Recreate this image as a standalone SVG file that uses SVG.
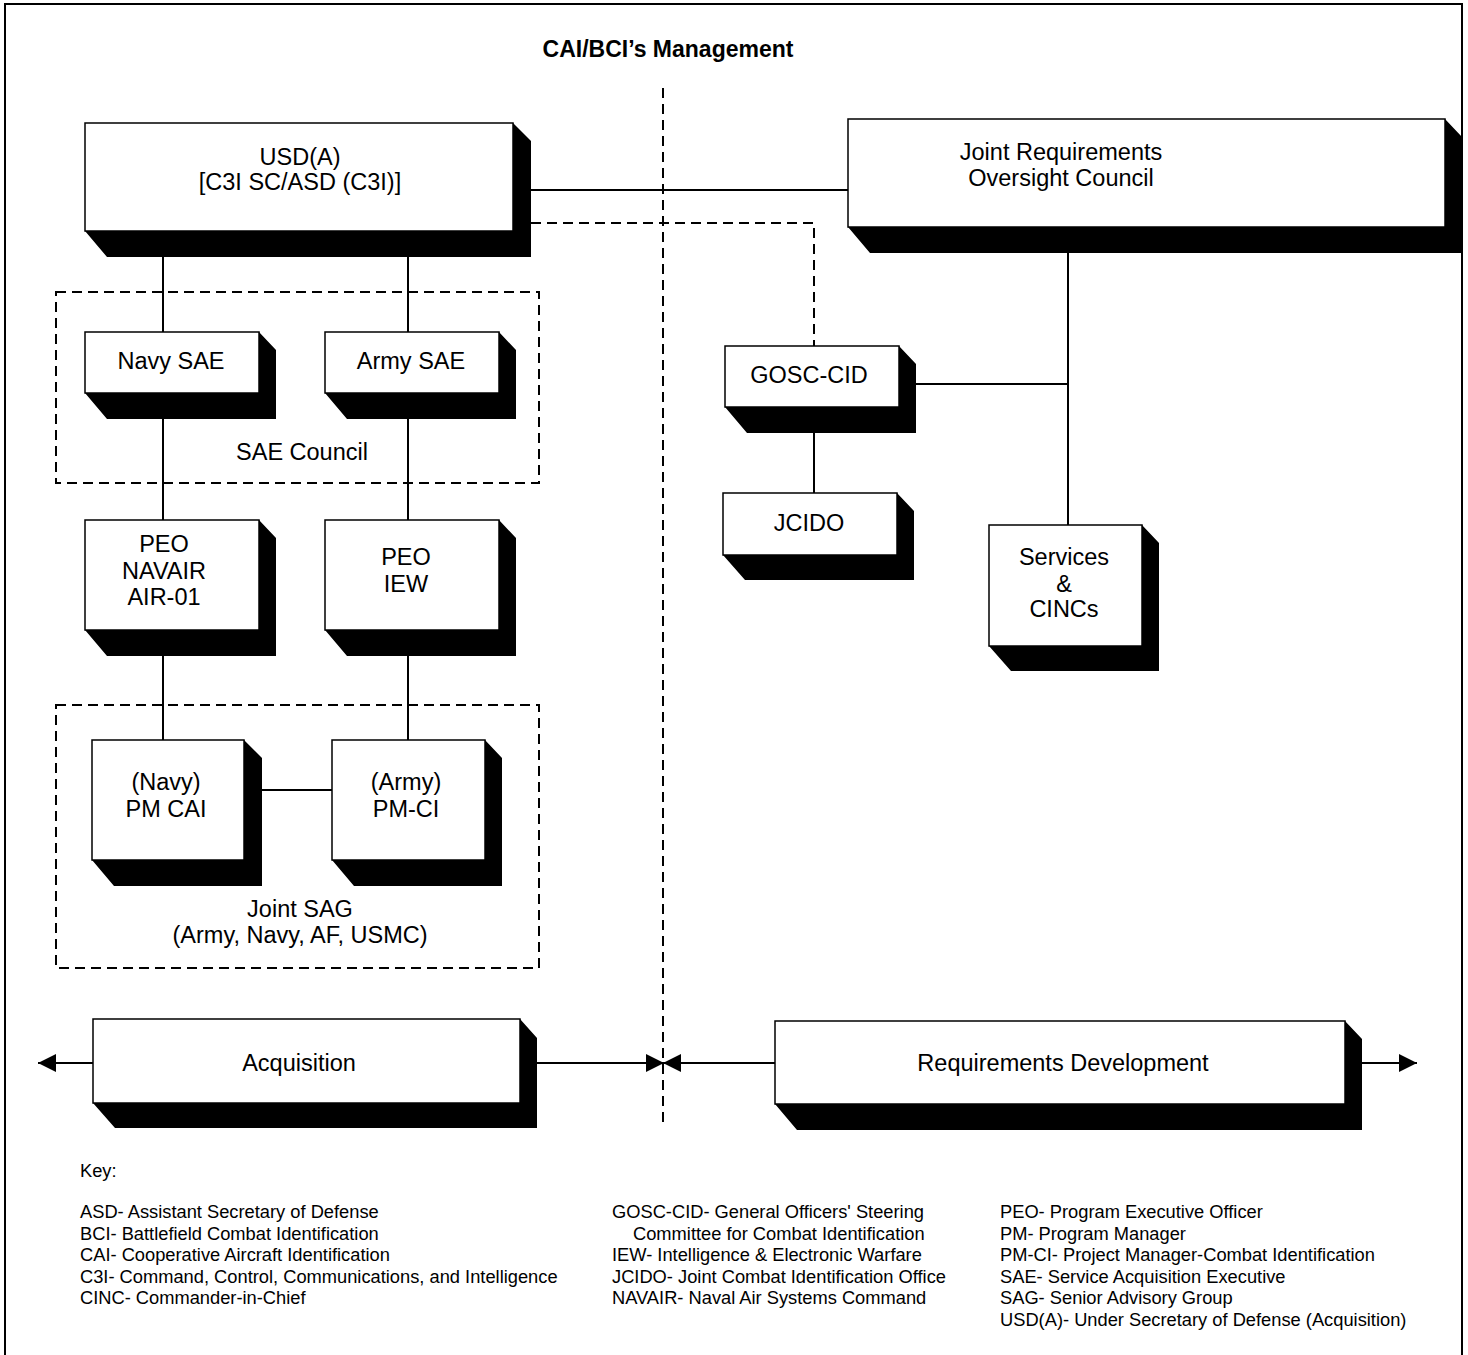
<svg xmlns="http://www.w3.org/2000/svg" width="1468" height="1355" viewBox="0 0 1468 1355">
<style>
text{font-family:"Liberation Sans",Arial,sans-serif;fill:#000}
.n{font-size:23.5px;text-anchor:middle}
.k{font-size:18.3px}
.box{fill:#fff;stroke:#000;stroke-width:1.5}
.sh{fill:#000}
.ln{stroke:#000;stroke-width:2;fill:none}
.dash{stroke:#000;stroke-width:2;fill:none;stroke-dasharray:10 6}
</style>
<defs>
<marker id="ah" viewBox="0 0 18 18" refX="18" refY="9" markerWidth="18" markerHeight="18" markerUnits="userSpaceOnUse" orient="auto">
<path d="M0,0 L18,9 L0,18 Z" fill="#000"/>
</marker>
</defs>
<rect x="0" y="0" width="1468" height="1355" fill="#fff"/>
<rect x="5" y="4" width="1457" height="1370" fill="none" stroke="#000" stroke-width="2"/>
<text x="668" y="57" style="font-size:23px;font-weight:bold" text-anchor="middle">CAI/BCI’s Management</text>

<g id="connectors">
<line class="dash" x1="663" y1="88" x2="663" y2="1127"/>
<rect class="dash" x="56" y="292" width="483" height="191"/>
<rect class="dash" x="56" y="705" width="483" height="263"/>
<line class="ln" x1="531" y1="190" x2="848" y2="190"/>
<polyline class="dash" points="531,223 814,223 814,346"/>
<line class="ln" x1="163" y1="257" x2="163" y2="332"/>
<line class="ln" x1="408" y1="257" x2="408" y2="332"/>
<line class="ln" x1="163" y1="419" x2="163" y2="520"/>
<line class="ln" x1="408" y1="419" x2="408" y2="520"/>
<line class="ln" x1="163" y1="656" x2="163" y2="740"/>
<line class="ln" x1="408" y1="656" x2="408" y2="740"/>
<line class="ln" x1="262" y1="790" x2="332" y2="790"/>
<line class="ln" x1="1068" y1="253" x2="1068" y2="525"/>
<line class="ln" x1="916" y1="384" x2="1068" y2="384"/>
<line class="ln" x1="814" y1="433" x2="814" y2="493"/>
<line class="ln" x1="93" y1="1063" x2="38" y2="1063" marker-end="url(#ah)"/>
<line class="ln" x1="537" y1="1063" x2="664" y2="1063" marker-end="url(#ah)"/>
<line class="ln" x1="775" y1="1063" x2="663" y2="1063" marker-end="url(#ah)"/>
<line class="ln" x1="1362" y1="1063" x2="1417" y2="1063" marker-end="url(#ah)"/>
</g>

<g id="usd">
<polygon class="sh" points="513,123 531,141 531,257 107,257 85,231 513,231"/>
<rect class="box" x="85" y="123" width="428" height="108"/>
<text class="n" x="300" y="165">USD(A)</text>
<text class="n" x="300" y="190">[C3I SC/ASD (C3I)]</text>
</g>
<g id="jroc">
<polygon class="sh" points="1445,119 1462,137 1462,253 870,253 848,227 1445,227"/>
<rect class="box" x="848" y="119" width="597" height="108"/>
<text class="n" x="1061" y="160">Joint Requirements</text>
<text class="n" x="1061" y="186">Oversight Council</text>
</g>
<g id="navysae">
<polygon class="sh" points="259,332 276,350 276,419 107,419 85,393 259,393"/>
<rect class="box" x="85" y="332" width="174" height="61"/>
<text class="n" x="171" y="369">Navy SAE</text>
</g>
<g id="armysae">
<polygon class="sh" points="499,332 516,350 516,419 347,419 325,393 499,393"/>
<rect class="box" x="325" y="332" width="174" height="61"/>
<text class="n" x="411" y="369">Army SAE</text>
</g>
<text class="n" x="302" y="460">SAE Council</text>
<g id="peonavair">
<polygon class="sh" points="259,520 276,538 276,656 107,656 85,630 259,630"/>
<rect class="box" x="85" y="520" width="174" height="110"/>
<text class="n" x="164" y="552">PEO</text>
<text class="n" x="164" y="579">NAVAIR</text>
<text class="n" x="164" y="605">AIR-01</text>
</g>
<g id="peoiew">
<polygon class="sh" points="499,520 516,538 516,656 347,656 325,630 499,630"/>
<rect class="box" x="325" y="520" width="174" height="110"/>
<text class="n" x="406" y="565">PEO</text>
<text class="n" x="406" y="592">IEW</text>
</g>
<g id="pmcai">
<polygon class="sh" points="244,740 262,758 262,886 114,886 92,860 244,860"/>
<rect class="box" x="92" y="740" width="152" height="120"/>
<text class="n" x="166" y="790">(Navy)</text>
<text class="n" x="166" y="817">PM CAI</text>
</g>
<g id="pmci">
<polygon class="sh" points="485,740 502,758 502,886 354,886 332,860 485,860"/>
<rect class="box" x="332" y="740" width="153" height="120"/>
<text class="n" x="406" y="790">(Army)</text>
<text class="n" x="406" y="817">PM-CI</text>
</g>
<text class="n" x="300" y="917">Joint SAG</text>
<text class="n" x="300" y="943">(Army, Navy, AF, USMC)</text>
<g id="gosc">
<polygon class="sh" points="899,346 916,364 916,433 747,433 725,407 899,407"/>
<rect class="box" x="725" y="346" width="174" height="61"/>
<text class="n" x="809" y="383">GOSC-CID</text>
</g>
<g id="jcido">
<polygon class="sh" points="897,493 914,511 914,580 745,580 723,555 897,555"/>
<rect class="box" x="723" y="493" width="174" height="62"/>
<text class="n" x="809" y="531">JCIDO</text>
</g>
<g id="services">
<polygon class="sh" points="1142,525 1159,543 1159,671 1011,671 989,646 1142,646"/>
<rect class="box" x="989" y="525" width="153" height="121"/>
<text class="n" x="1064" y="565">Services</text>
<text class="n" x="1064" y="592">&amp;</text>
<text class="n" x="1064" y="617">CINCs</text>
</g>
<g id="acquisition">
<polygon class="sh" points="520,1019 537,1038 537,1128 115,1128 93,1103 520,1103"/>
<rect class="box" x="93" y="1019" width="427" height="84"/>
<text class="n" x="299" y="1071">Acquisition</text>
</g>
<g id="reqdev">
<polygon class="sh" points="1345,1021 1362,1039 1362,1130 797,1130 775,1104 1345,1104"/>
<rect class="box" x="775" y="1021" width="570" height="83"/>
<text class="n" x="1063" y="1071">Requirements Development</text>
</g>

<g id="key">
<text class="k" x="80" y="1177">Key:</text>
<text class="k" x="80" y="1218">ASD- Assistant Secretary of Defense</text>
<text class="k" x="80" y="1239.5">BCI- Battlefield Combat Identification</text>
<text class="k" x="80" y="1261">CAI- Cooperative Aircraft Identification</text>
<text class="k" x="80" y="1282.5">C3I- Command, Control, Communications, and Intelligence</text>
<text class="k" x="80" y="1304">CINC- Commander-in-Chief</text>
<text class="k" x="612" y="1218">GOSC-CID- General Officers' Steering</text>
<text class="k" x="633" y="1239.5">Committee for Combat Identification</text>
<text class="k" x="612" y="1261">IEW- Intelligence &amp; Electronic Warfare</text>
<text class="k" x="612" y="1282.5">JCIDO- Joint Combat Identification Office</text>
<text class="k" x="612" y="1304">NAVAIR- Naval Air Systems Command</text>
<text class="k" x="1000" y="1218">PEO- Program Executive Officer</text>
<text class="k" x="1000" y="1239.5">PM- Program Manager</text>
<text class="k" x="1000" y="1261">PM-CI- Project Manager-Combat Identification</text>
<text class="k" x="1000" y="1282.5">SAE- Service Acquisition Executive</text>
<text class="k" x="1000" y="1304">SAG- Senior Advisory Group</text>
<text class="k" x="1000" y="1325.5">USD(A)- Under Secretary of Defense (Acquisition)</text>
</g>
</svg>
